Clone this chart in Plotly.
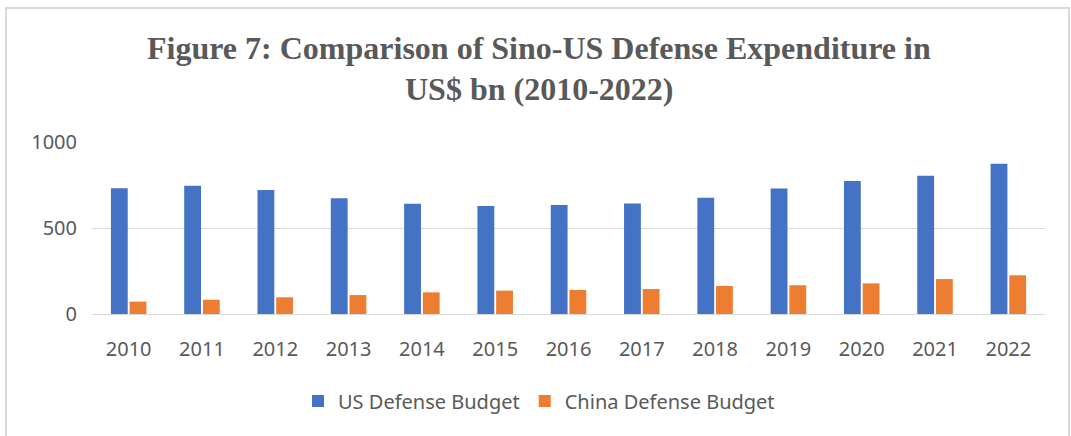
import plotly.graph_objects as go

years = ["2010", "2011", "2012", "2013", "2014", "2015", "2016",
         "2017", "2018", "2019", "2020", "2021", "2022"]
us_budget = [731, 746, 721, 673, 641, 628, 634, 643, 676, 729, 773, 804, 874]
china_budget = [72, 83, 97, 110, 126, 136, 140, 145, 163, 167, 178, 203, 225]
y_ticks = [0, 500, 1000]

title_lines = ["Figure 7: Comparison of Sino-US Defense Expenditure in",
               "US$ bn (2010-2022)"]

W, H = 1071, 436
ml, mr, mt, mb = 92, 26, 142, 122
pw, ph = W - ml - mr, H - mt - mb

def px_x(x):
    return (x - ml) / pw

def px_y(y):
    return (H - mb - y) / ph

grey = "#595959"
fig = go.Figure()
fig.add_trace(go.Bar(x=years, y=us_budget, name="US Defense Budget",
                     marker=dict(color="#4472C4", line=dict(width=0))))
fig.add_trace(go.Bar(x=years, y=china_budget, name="China Defense Budget",
                     marker=dict(color="#ED7D31", line=dict(width=0))))

annotations = []
for text, y in zip(title_lines, [48, 89]):
    annotations.append(dict(text="<b>" + text + "</b>", xref="paper", yref="paper",
                            x=px_x(539), y=px_y(y), xanchor="center", yanchor="middle",
                            showarrow=False,
                            font=dict(family="Liberation Serif", size=32, color=grey)))

fig.update_layout(
    width=W, height=H,
    margin=dict(l=ml, r=mr, t=mt, b=mb),
    paper_bgcolor="white", plot_bgcolor="white",
    barmode="group", bargap=0.49, bargroupgap=0.1,
    font=dict(family="Noto Sans", size=20, color=grey),
    showlegend=True,
    legend=dict(orientation="h", x=px_x(539), xanchor="center",
                y=px_y(401), yanchor="middle",
                font=dict(family="Noto Sans", size=20, color=grey),
                itemwidth=30, tracegroupgap=0),
    annotations=annotations,
    shapes=[dict(type="rect", xref="paper", yref="paper",
                 x0=px_x(6), x1=px_x(1069), y0=px_y(8), y1=px_y(440),
                 line=dict(color="#d9d9d9", width=2), layer="below")],
)
fig.update_xaxes(showgrid=False, showline=True, linecolor="#d9d9d9", linewidth=1,
                 ticks="", tickfont=dict(size=20, color=grey), ticklabelstandoff=17)
fig.update_yaxes(range=[0, 1000], tickvals=y_ticks, showgrid=True, gridcolor="#d9d9d9",
                 gridwidth=1, zeroline=False, showline=False, ticks="",
                 tickfont=dict(size=20, color=grey), ticklabelstandoff=14)

fig.write_html("out.html")
